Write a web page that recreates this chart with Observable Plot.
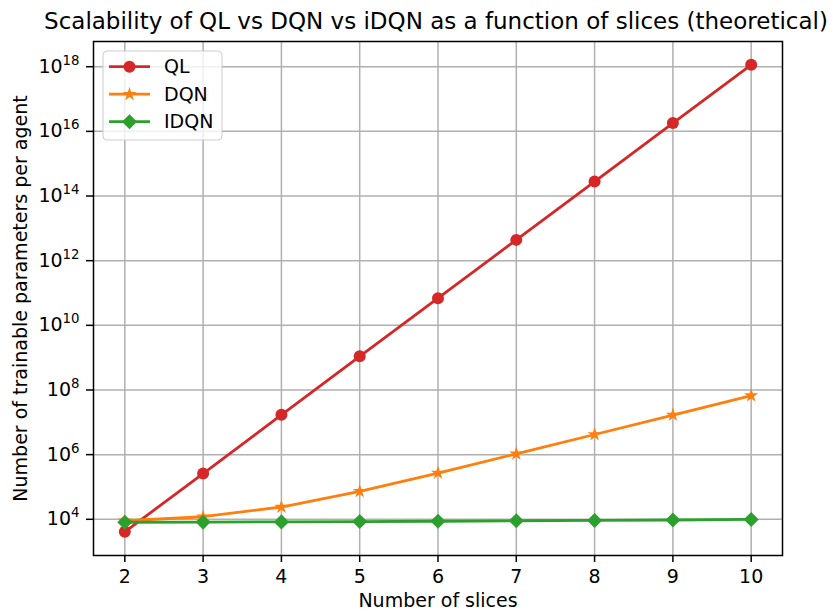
<!DOCTYPE html>
<html><head><meta charset="utf-8">
<script src="https://cdn.jsdelivr.net/npm/d3@7"></script>
<script src="https://cdn.jsdelivr.net/npm/@observablehq/plot@0.6"></script>
<style>
html,body{margin:0;padding:0;background:#fff;overflow:hidden;}
#chart{width:833px;height:611px;}
</style></head><body><div id="chart"></div>
<script>
// ---- data ----
const slices = [2, 3, 4, 5, 6, 7, 8, 9, 10];
const qlValues = [4.1e3, 2.6e5, 1.7e7, 1.1e9, 6.9e10, 4.4e12, 2.8e14, 1.8e16, 1.15e18];
const dqnValues = [9.0e3, 1.2e4, 2.4e4, 7.3e4, 2.7e5, 1.06e6, 4.2e6, 1.68e7, 6.7e7];
const idqnValues = [8.1e3, 8.2e3, 8.3e3, 8.5e3, 8.7e3, 9.0e3, 9.2e3, 9.5e3, 9.9e3];
const seriesNames = ["QL", "DQN", "IDQN"];
const xTicks = [2, 3, 4, 5, 6, 7, 8, 9, 10];
const yTickExponents = [4, 6, 8, 10, 12, 14, 16, 18];
const titleText = "Scalability of QL vs DQN vs iDQN as a function of slices (theoretical)";
const xLabel = "Number of slices";
const yLabel = "Number of trainable parameters per agent";

// ---- styling ----
const colors = {QL: "#d62728", DQN: "#ff7f0e", IDQN: "#2ca02c"};
const symbols = {QL: "circle", DQN: "star", IDQN: "diamond2"};
const radii = {QL: 6, DQN: 4.4, IDQN: 6.8};
const font = "'DejaVu Sans', sans-serif";
const fs = 19;

const toRows = (vals) => slices.map((s, i) => ({x: s, y: vals[i]}));
const seriesData = {QL: toRows(qlValues), DQN: toRows(dqnValues), IDQN: toRows(idqnValues)};
const yTicks = yTickExponents.map(e => Math.pow(10, e));

const seriesMarks = seriesNames.flatMap(name => [
  Plot.line(seriesData[name], {x: "x", y: "y", stroke: colors[name], strokeWidth: 2.8}),
  Plot.dot(seriesData[name], {x: "x", y: "y", symbol: symbols[name], r: radii[name], fill: colors[name], stroke: "none"})
]);

const plot = Plot.plot({
  width: 833, height: 611,
  marginLeft: 93, marginRight: 51, marginTop: 41, marginBottom: 56,
  style: {fontFamily: font, fontSize: fs + "px", background: "white", overflow: "hidden", color: "black"},
  x: {type: "linear", domain: [1.6, 10.4]},
  y: {type: "log", domain: [Math.pow(10, 2.88), Math.pow(10, 18.78)]},
  marks: [
    Plot.gridX({ticks: xTicks, stroke: "#b0b0b0", strokeOpacity: 1, strokeWidth: 1.5}),
    Plot.gridY({ticks: yTicks, stroke: "#b0b0b0", strokeOpacity: 1, strokeWidth: 1.5}),
    ...seriesMarks,
    Plot.frame({stroke: "black", strokeWidth: 1.5}),
    Plot.axisX({ticks: xTicks, tickSize: 7, tickPadding: 7, strokeWidth: 1.5, fontSize: fs, label: null, tickFormat: d => String(d)}),
    Plot.axisY({ticks: yTicks, tickSize: 7, tickPadding: 7, strokeWidth: 1.5, fontSize: fs, label: null,
      tickFormat: d => "10^" + Math.round(Math.log10(d))}),
    Plot.text([xLabel], {text: d => d, frameAnchor: "bottom", lineAnchor: "middle", textAnchor: "middle", dy: 45, fontSize: fs, fill: "black"}),
    Plot.text([yLabel], {text: d => d, frameAnchor: "left", lineAnchor: "middle", textAnchor: "middle", dx: -73, rotate: -90, fontSize: fs, fill: "black"}),
    Plot.text([titleText], {text: d => d, frameAnchor: "top", textAnchor: "middle", dx: -2, dy: -13, lineAnchor: "bottom", fontSize: 23, fill: "black"})
  ]
});

document.getElementById("chart").appendChild(plot);

const svg = d3.select(plot);
// superscript exponents on y tick labels
svg.selectAll('g[aria-label="y-axis tick label"] text').each(function() {
  const t = this.textContent;
  if (t.indexOf("^") < 0) return;
  const exp = t.split("^")[1];
  this.textContent = "10";
  d3.select(this).append("tspan").attr("dy", -8).attr("font-size", 13.3).text(exp);
});

// legend
const lg = svg.append("g").attr("font-family", font).attr("font-size", fs).attr("text-anchor", "start");
lg.append("rect").attr("x", 103).attr("y", 51).attr("width", 119).attr("height", 89).attr("rx", 4)
  .attr("fill", "white").attr("fill-opacity", 0.8).attr("stroke", "#cccccc").attr("stroke-width", 1);
const d3sym = {circle: d3.symbolCircle, star: d3.symbolStar, diamond2: d3.symbolDiamond2};
seriesNames.forEach((name, i) => {
  const y = 66.7 + i * 27.5;
  lg.append("line").attr("x1", 109).attr("x2", 150).attr("y1", y).attr("y2", y)
    .attr("stroke", colors[name]).attr("stroke-width", 2.8);
  lg.append("path").attr("d", d3.symbol(d3sym[symbols[name]], Math.PI * radii[name] * radii[name])())
    .attr("transform", `translate(129.5,${y})`).attr("fill", colors[name]);
  lg.append("text").attr("x", 164).attr("y", y).attr("dy", "0.35em").attr("text-anchor", "start").attr("fill", "black").text(name);
});
</script></body></html>
